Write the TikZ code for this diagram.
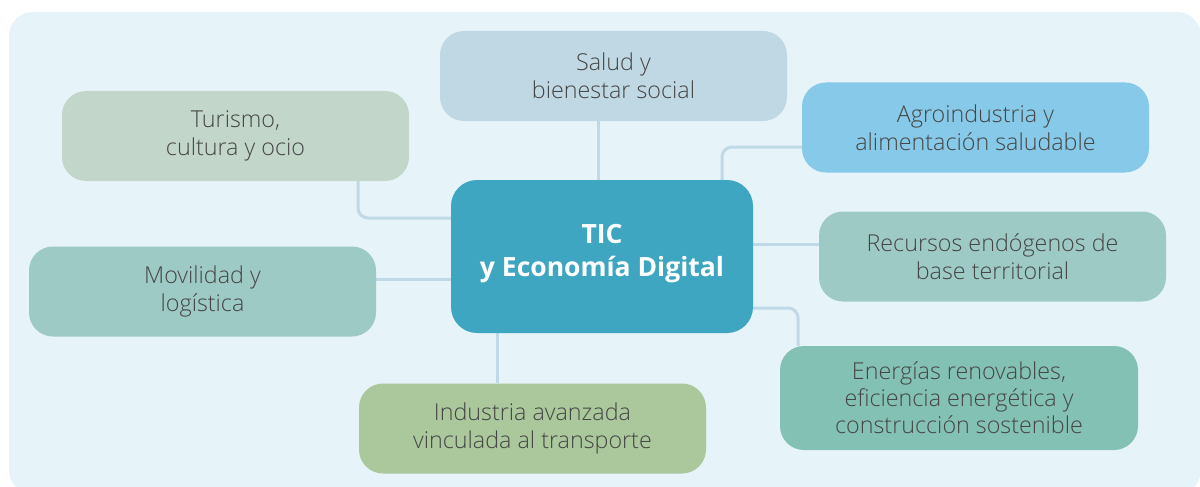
\documentclass[tikz,border=0pt]{standalone}
\usepackage{fontspec}
\IfFontExistsTF{Open Sans Light}{\setmainfont{Open Sans Light}}{\setmainfont{Open Sans}}
\newfontfamily\boldfam{Open Sans}
\usetikzlibrary{backgrounds}
\definecolor{bgc}{HTML}{E6F3F8}
\definecolor{conc}{HTML}{C0D9E6}
\definecolor{txt}{HTML}{454545}
\definecolor{cTur}{HTML}{C2D6CA}
\definecolor{cMov}{HTML}{9ECAC6}
\definecolor{cSal}{HTML}{C0D8E4}
\definecolor{cAgr}{HTML}{87C9E8}
\definecolor{cRec}{HTML}{9ECAC6}
\definecolor{cEne}{HTML}{84C1B5}
\definecolor{cInd}{HTML}{AAC89C}
\definecolor{cCen}{HTML}{3EA6C0}
\tikzset{
  topic/.style={rounded corners=24pt, inner sep=0pt, minimum width=347pt, minimum height=90pt,
    align=center, text=txt, font=\fontsize{23.3}{28}\selectfont},
  conn/.style={draw=conc, line width=3pt, rounded corners=10pt},
}
\begin{document}
\begin{tikzpicture}[x=1pt,y=-1pt]
\useasboundingbox (0,0) rectangle (1200,487);
\node[topic, fill=cTur] (tur) at (235.5,136) {Turismo,\\cultura y ocio};
\node[topic, fill=cMov] (mov) at (202.5,291.5) {Movilidad y\\log\'istica};
\node[topic, fill=cSal] (sal) at (613.5,76) {Salud y\\bienestar social};
\node[topic, fill=cAgr] (agr) at (975.5,127.5) {Agroindustria y\\alimentaci\'on saludable};
\node[topic, fill=cRec] (rec) at (992.5,256.5) {Recursos end\'ogenos de\\base territorial};
\node[topic, fill=cEne, minimum width=358pt, minimum height=104pt, font=\fontsize{23.3}{27}\selectfont] (ene) at (959,398) {Energ\'ias renovables,\\eficiencia energ\'etica y\\construcci\'on sostenible};
\node[topic, fill=cInd] (ind) at (532.5,428.5) {Industria avanzada\\vinculada al transporte};
\node[rounded corners=26pt, inner sep=0pt, minimum width=302pt, minimum height=153pt, fill=cCen] (cen) at (602,256.5) {};
\node[align=center, text=white, inner sep=0pt, font=\boldfam\bfseries\fontsize{26.5}{33}\selectfont] (centxt) at ([yshift=3pt]cen.center) {TIC\\y Econom\'ia Digital};
\begin{scope}[on background layer]
\fill[bgc, rounded corners=24pt] (9,12) rectangle (1201,494);
\draw[conn] ([xshift=-4pt]cen.north) -- ([xshift=-4pt]cen.north |- sal.south);
\draw[conn] ([xshift=122.5pt]tur.south) |- ([yshift=38.5pt]cen.west);
\draw[conn] ([yshift=12.5pt]mov.east) -- ([yshift=12.5pt]mov.east -| cen.west);
\draw[conn] ([xshift=-105pt]cen.south) -- ([xshift=-105pt]cen.south |- ind.north);
\draw[conn] ([xshift=120pt]cen.north) |- ([yshift=-19.5pt]agr.west);
\draw[conn] ([yshift=12.5pt]rec.west) -- ([yshift=12.5pt]rec.west -| cen.east);
\draw[conn] ([yshift=-51.5pt]cen.east) -| ([xshift=-161pt]ene.north);
\end{scope}
\end{tikzpicture}
\end{document}
